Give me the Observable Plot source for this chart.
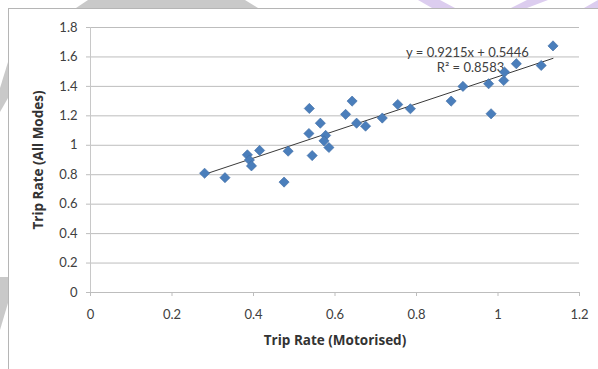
<!DOCTYPE html>
<html>
<head>
<meta charset="utf-8">
<script src="https://cdn.jsdelivr.net/npm/d3@7"></script>
<script src="https://cdn.jsdelivr.net/npm/@observablehq/plot@0.6"></script>
<style>
  html, body { margin: 0; padding: 0; background: #fff; }
  #wrap { position: relative; width: 598px; height: 369px; overflow: hidden; }
  #deco { position: absolute; left: 0; top: 0; pointer-events: none; }
</style>
</head>
<body>
<div id="wrap"></div>
<script>
// ---- data ----
const tripMotorised = [0.28, 0.33, 0.385, 0.39, 0.395, 0.415, 0.475, 0.485, 0.537, 0.536,
  0.544, 0.564, 0.577, 0.573, 0.585, 0.626, 0.642, 0.653, 0.675, 0.716,
  0.754, 0.785, 0.885, 0.914, 0.977, 0.983, 1.014, 1.016, 1.045, 1.106, 1.135];
const tripAllModes = [0.81, 0.78, 0.935, 0.90, 0.86, 0.965, 0.75, 0.96, 1.25, 1.08,
  0.93, 1.15, 1.067, 1.03, 0.985, 1.21, 1.30, 1.15, 1.13, 1.185,
  1.277, 1.248, 1.30, 1.40, 1.418, 1.214, 1.44, 1.497, 1.554, 1.542, 1.675];
const xTicks = [0, 0.2, 0.4, 0.6, 0.8, 1, 1.2];
const xTickLabels = ["0", "0.2", "0.4", "0.6", "0.8", "1", "1.2"];
const yTicks = [0, 0.2, 0.4, 0.6, 0.8, 1, 1.2, 1.4, 1.6, 1.8];
const yTickLabels = ["0", "0.2", "0.4", "0.6", "0.8", "1", "1.2", "1.4", "1.6", "1.8"];
const trendSlope = 0.9215;
const trendIntercept = 0.5446;
const equationLine = "y = 0.9215x + 0.5446";
const r2Line = "R\u00B2 = 0.8583";
const xTitle = "Trip Rate (Motorised)";
const yTitle = "Trip Rate (All Modes)";

const points = tripMotorised.map((x, i) => ({x, y: tripAllModes[i]}));
const trend = d3.extent(tripMotorised).map(x => ({x, y: trendSlope * x + trendIntercept}));
const fmtX = d => xTickLabels[xTicks.indexOf(d)];
const fmtY = d => yTickLabels[yTicks.indexOf(d)];
const wide = "'Open Sans', Lato, sans-serif";

const chart = Plot.plot({
  width: 598,
  height: 369,
  marginLeft: 90,
  marginRight: 19,
  marginTop: 27,
  marginBottom: 77,
  style: {background: "transparent", fontFamily: "Lato, 'Open Sans', sans-serif"},
  x: {domain: [0, 1.2], axis: null},
  y: {domain: [0, 1.8], axis: null},
  marks: [
    Plot.gridY(yTicks, {stroke: "#bdbdbd", strokeOpacity: 1, strokeWidth: 1}),
    Plot.ruleX([0], {stroke: "#c8c8c8"}),
    Plot.axisY({ticks: yTicks, tickFormat: fmtY, tickSize: 4, tickPadding: 9, label: null,
      stroke: "#bdbdbd", fill: "#404040", fontSize: 13}),
    Plot.axisX({ticks: xTicks, tickFormat: fmtX, tickSize: 4, tickPadding: 13, label: null,
      stroke: "#bdbdbd", fill: "#404040", fontSize: 13}),
    Plot.line(trend, {x: "x", y: "y", stroke: "#3a3a3a", strokeWidth: 1}),
    Plot.text([equationLine], {text: d => d, frameAnchor: "top-right",
      dx: -112, dy: 25, textAnchor: "middle", lineAnchor: "middle",
      fontSize: 13, fill: "#404040"}),
    Plot.text([r2Line], {text: d => d, frameAnchor: "top-right",
      dx: -109, dy: 40, textAnchor: "middle", lineAnchor: "middle",
      fontSize: 13, fill: "#404040"}),
    Plot.dot(points, {x: "x", y: "y", symbol: "diamond2", r: 4.6,
      fill: "#4a7ebb", stroke: "#3d6aa3", strokeWidth: 0.6}),
    Plot.text([xTitle], {text: d => d, frameAnchor: "bottom", dy: 48,
      lineAnchor: "middle", fontWeight: "bold", fontSize: 13.5, fontFamily: wide, fill: "#333"}),
    Plot.text([yTitle], {text: d => d, frameAnchor: "left", dx: -52, rotate: -90,
      textAnchor: "middle", lineAnchor: "middle", fontWeight: "bold", fontSize: 13.5,
      fontFamily: wide, fill: "#333"})
  ]
});
document.getElementById("wrap").appendChild(chart);

// decorative page background slivers and chart border
const ns = "http://www.w3.org/2000/svg";
const deco = document.createElementNS(ns, "svg");
deco.setAttribute("id", "deco");
deco.setAttribute("width", 598);
deco.setAttribute("height", 369);
deco.innerHTML = `
  <polygon points="88,0 245,0 258,8 76,8" fill="#c9c9c9"/>
  <polygon points="418,0 440,0 455,8 432,8" fill="#dccdef"/>
  <polygon points="527,0 548,0 527,8 511,8" fill="#dccdef"/>
  <polygon points="598,0 598,8 584,8" fill="#dccdef"/>
  <polygon points="0,88 8,62 8,98 0,112" fill="#c9c9c9"/>
  <polygon points="0,277 8,277 8,303 0,330" fill="#c9c9c9"/>
  <line x1="8.5" y1="8" x2="8.5" y2="369" stroke="#b5b5b5"/>
  <line x1="8" y1="8.5" x2="598" y2="8.5" stroke="#b5b5b5"/>
`;
document.getElementById("wrap").appendChild(deco);
</script>
</body>
</html>
